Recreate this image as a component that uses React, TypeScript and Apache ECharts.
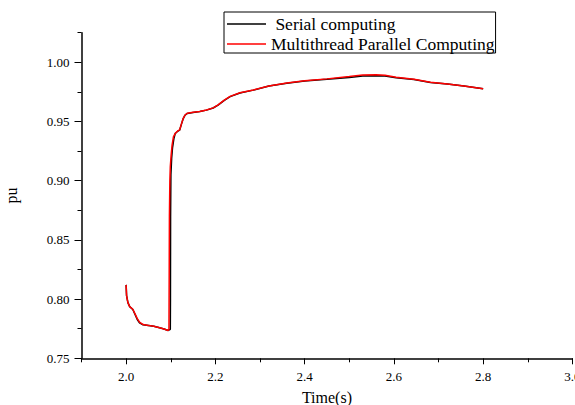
import React, { useEffect, useRef } from "react";
import * as echarts from "echarts";

// Bus voltage (pu) over simulation time (s)
const serialTime = [
  2.0, 2.001, 2.004, 2.008, 2.015, 2.02, 2.025, 2.03, 2.038, 2.05, 2.062, 2.075, 2.085, 2.0945,
  2.099, 2.0993, 2.0996, 2.1003, 2.102, 2.104, 2.107, 2.11, 2.115, 2.12, 2.124, 2.128, 2.132,
  2.137, 2.15, 2.165, 2.18, 2.195, 2.206, 2.22, 2.233, 2.255, 2.285, 2.32, 2.36, 2.4, 2.45,
  2.5, 2.53, 2.56, 2.58, 2.605, 2.645, 2.682, 2.72, 2.757, 2.8,
];
const serialPu = [
  0.812, 0.803, 0.797, 0.7936, 0.7912, 0.787, 0.7828, 0.78, 0.7783, 0.7777, 0.777, 0.7758,
  0.7748, 0.7735, 0.7745, 0.8, 0.87, 0.905, 0.919, 0.928, 0.9355, 0.9398, 0.9416, 0.9428,
  0.9478, 0.9525, 0.9553, 0.9568, 0.9576, 0.9584, 0.9596, 0.9614, 0.9638, 0.9678, 0.971,
  0.9741, 0.9765, 0.9799, 0.9824, 0.9843, 0.9856, 0.9872, 0.9885, 0.9887, 0.9885, 0.987,
  0.9855, 0.983, 0.9816, 0.9799, 0.9776,
];
const parallelTime = [
  2.0, 2.001, 2.004, 2.008, 2.015, 2.02, 2.025, 2.03, 2.038, 2.05, 2.062, 2.075, 2.085, 2.094,
  2.096, 2.0965, 2.097, 2.098, 2.099, 2.101, 2.103, 2.106, 2.11, 2.115, 2.12, 2.124, 2.128,
  2.132, 2.137, 2.15, 2.165, 2.18, 2.195, 2.206, 2.22, 2.233, 2.255, 2.285, 2.32, 2.36, 2.4,
  2.45, 2.5, 2.53, 2.56, 2.58, 2.605, 2.645, 2.682, 2.72, 2.757, 2.8,
];
const parallelPu = [
  0.812, 0.803, 0.797, 0.7936, 0.7914, 0.7875, 0.7835, 0.7805, 0.7785, 0.7778, 0.777, 0.7758,
  0.7748, 0.7735, 0.7745, 0.82, 0.87, 0.9, 0.912, 0.922, 0.93, 0.937, 0.94, 0.9418, 0.943,
  0.948, 0.9527, 0.9555, 0.957, 0.9578, 0.9585, 0.9597, 0.9615, 0.964, 0.968, 0.9712, 0.9743,
  0.9766, 0.98, 0.9825, 0.9845, 0.986, 0.988, 0.9893, 0.9895, 0.989, 0.9873, 0.9856, 0.9831,
  0.9817, 0.98, 0.9777,
];

// Axis ticks and labels
const xLabelValues = [2.0, 2.2, 2.4, 2.6, 2.8, 3.0];
const xMinorTicks = [1.9, 2.1, 2.3, 2.5, 2.7, 2.9];
const yLabelValues = [0.75, 0.8, 0.85, 0.9, 0.95, 1.0];
const yMinorTicks = [0.775, 0.825, 0.875, 0.925, 0.975, 1.025];

const FONT = "'Liberation Serif', 'Times New Roman', serif";

export default function App() {
  const ref = useRef<HTMLDivElement>(null);

  useEffect(() => {
    if (!ref.current) return;
    document.documentElement.style.overflow = "hidden";
    document.body.style.overflow = "hidden";
    const chart = echarts.init(ref.current, undefined, { renderer: "svg" });
    const pairs = (t: number[], v: number[]) => t.map((x, i) => [x, v[i]]);

    const axisLineStyle = { color: "#000", width: 1.5 };

    chart.setOption({
      animation: false,
      backgroundColor: "#fff",
      grid: {
        left: 81.5,
        right: 2.6,
        top: 32.7,
        bottom: 46.7,
        containLabel: false,
        outerBoundsMode: "none",
      },
      legend: {
        orient: "vertical",
        left: 224,
        top: 12,
        padding: [3, 1, 0, 3],
        itemGap: 2,
        itemWidth: 39,
        itemHeight: 1.5,
        icon: "rect",
        borderColor: "#000",
        borderWidth: 1,
        backgroundColor: "#fff",
        textStyle: { fontFamily: FONT, fontSize: 17.5, color: "#000", lineHeight: 18 },
        formatter: (name: string) => (name === "Serial computing" ? " " + name : name),
        data: ["Serial computing", "Multithread Parallel Computing"],
      },
      xAxis: [
        {
          type: "value",
          min: 1.9,
          max: 3.0,
          name: "Time(s)",
          nameLocation: "middle",
          nameGap: 31,
          nameTextStyle: { fontFamily: FONT, fontSize: 16, color: "#000" },
          axisLine: { show: true, onZero: false, lineStyle: axisLineStyle },
          axisTick: { show: true, length: 6, customValues: xLabelValues, lineStyle: { color: "#000", width: 1 } },
          axisLabel: {
            customValues: xLabelValues,
            margin: 12,
            fontFamily: FONT,
            fontSize: 13,
            color: "#000",
            formatter: (v: number) => v.toFixed(1),
          },
          splitLine: { show: false },
        },
        {
          type: "value",
          position: "bottom",
          min: 1.9,
          max: 3.0,
          axisLine: { show: false },
          axisTick: { show: true, length: 4, customValues: xMinorTicks, lineStyle: { color: "#000", width: 1 } },
          axisLabel: { show: false },
          splitLine: { show: false },
        },
      ],
      yAxis: [
        {
          type: "value",
          min: 0.75,
          max: 1.025,
          name: "pu",
          nameLocation: "middle",
          nameGap: 62,
          nameTextStyle: { fontFamily: FONT, fontSize: 16, color: "#000" },
          axisLine: { show: true, onZero: false, lineStyle: axisLineStyle },
          axisTick: { show: true, length: 7, customValues: yLabelValues, lineStyle: { color: "#000", width: 1 } },
          axisLabel: {
            customValues: yLabelValues,
            margin: 12,
            fontFamily: FONT,
            fontSize: 13,
            color: "#000",
            formatter: (v: number) => v.toFixed(2),
          },
          splitLine: { show: false },
        },
        {
          type: "value",
          position: "left",
          min: 0.75,
          max: 1.025,
          axisLine: { show: false },
          axisTick: { show: true, length: 4, customValues: yMinorTicks, lineStyle: { color: "#000", width: 1 } },
          axisLabel: { show: false },
          splitLine: { show: false },
        },
      ],
      series: [
        {
          name: "Serial computing",
          type: "line",
          data: pairs(serialTime, serialPu),
          symbol: "none",
          lineStyle: { color: "#000", width: 1.5 },
          itemStyle: { color: "#000" },
        },
        {
          name: "Multithread Parallel Computing",
          type: "line",
          data: pairs(parallelTime, parallelPu),
          symbol: "none",
          lineStyle: { color: "#ff0000", width: 1.5 },
          itemStyle: { color: "#ff0000" },
        },
      ],
    });

    return () => chart.dispose();
  }, []);

  return (
    <div
      ref={ref}
      style={{ position: "fixed", left: 0, top: 0, width: 575, height: 405, overflow: "hidden" }}
    />
  );
}
